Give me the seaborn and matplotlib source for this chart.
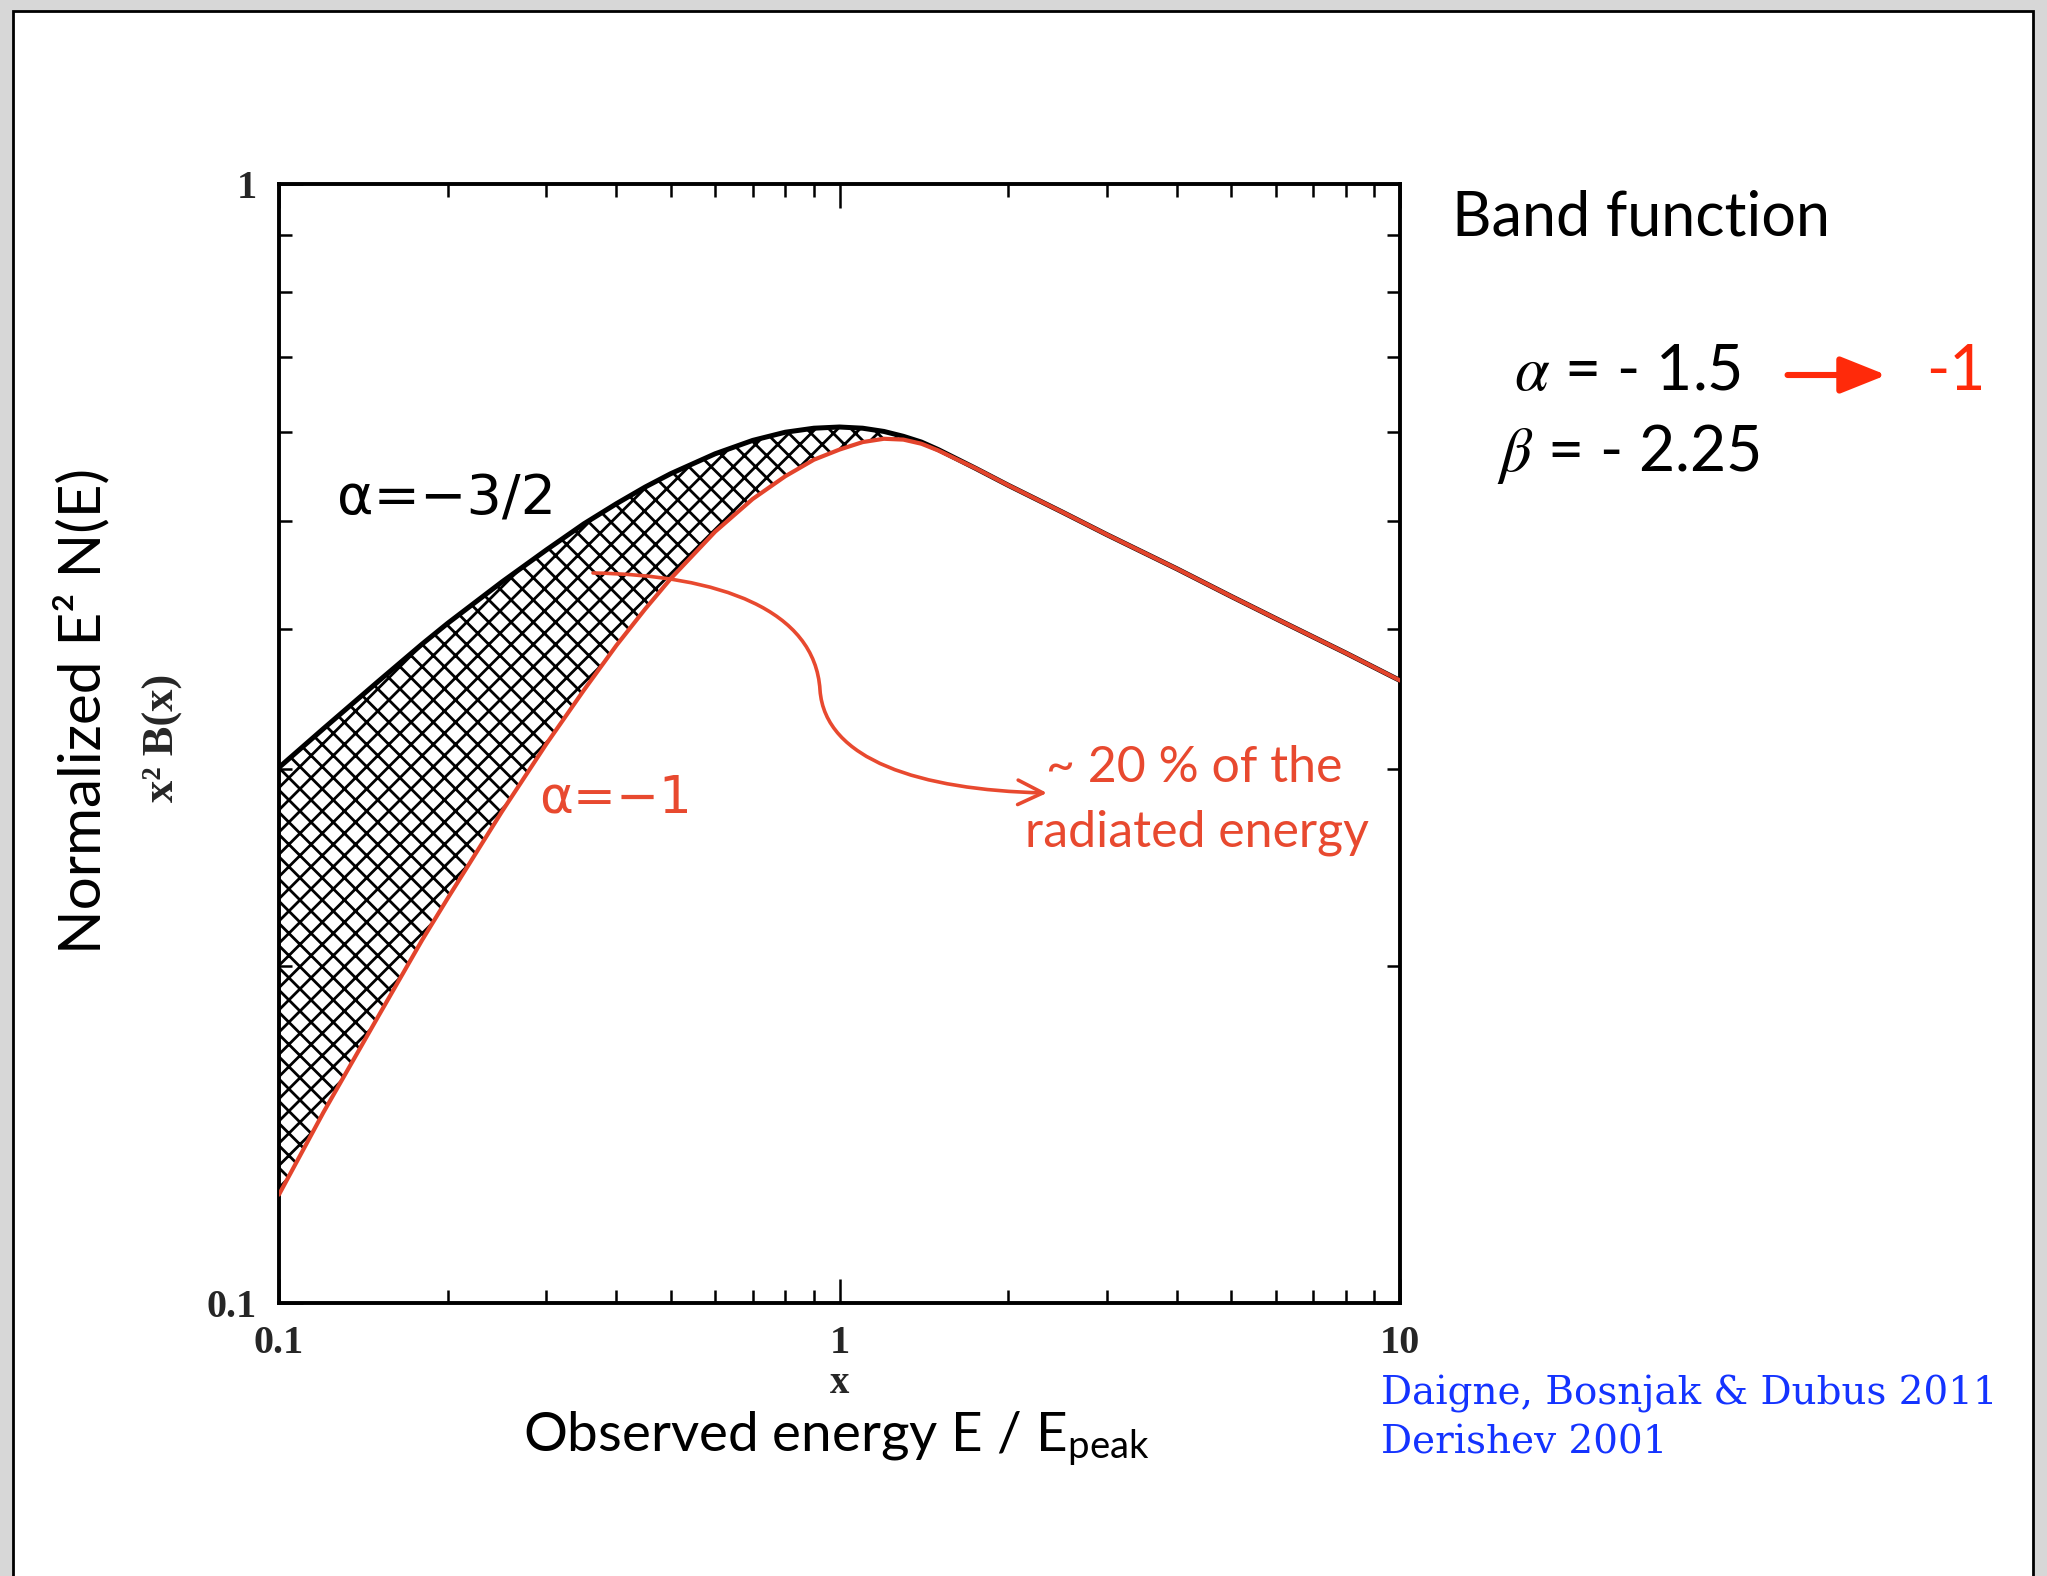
import numpy as np
import pandas as pd
import seaborn as sns
import matplotlib
matplotlib.use("Agg")
import matplotlib.pyplot as plt
from matplotlib.patches import Rectangle, FancyArrowPatch
from matplotlib.path import Path
from matplotlib.ticker import NullFormatter, FixedLocator, FixedFormatter, LogLocator

# ---- data (x = E / E_peak, y = x^2 B(x)) ----
x_ratio = [0.1, 0.12, 0.15, 0.18, 0.2, 0.25, 0.3, 0.35, 0.4, 0.45, 0.5, 0.6, 0.7,
           0.8, 0.9, 1.0, 1.1, 1.2, 1.3, 1.4, 1.5, 1.75, 2.0, 2.5, 3.0, 4.0, 5.0,
           6.0, 8.0, 10.0]
band_alpha_m15 = [0.301, 0.326, 0.359, 0.388, 0.405, 0.441, 0.471, 0.497, 0.518,
                  0.536, 0.551, 0.574, 0.590, 0.600, 0.605, 0.6065, 0.605, 0.601,
                  0.595, 0.588, 0.579, 0.557, 0.538, 0.509, 0.486, 0.453, 0.428,
                  0.409, 0.381, 0.360]
band_alpha_m1 = [0.125, 0.148, 0.180, 0.211, 0.230, 0.275, 0.316, 0.353, 0.387,
                 0.417, 0.444, 0.489, 0.523, 0.548, 0.567, 0.579, 0.588, 0.592,
                 0.591, 0.586, 0.578, 0.557, 0.538, 0.509, 0.486, 0.453, 0.428,
                 0.409, 0.381, 0.360]
x_tick_values = [0.1, 1, 10]
x_tick_labels = ["0.1", "1", "10"]
y_tick_values = [0.1, 1]
y_tick_labels = ["0.1", "1"]

W, H, DPI = 2047, 1576, 200
RED = "#e3442c"
RED_TXT = "#e8492f"

sns.set_theme(style="ticks")
plt.rcParams["font.family"] = ["Lato", "DejaVu Sans"]
plt.rcParams["mathtext.fontset"] = "stix"
plt.rcParams["hatch.linewidth"] = 1.0
plt.rcParams["hatch.color"] = "black"

fig = plt.figure(figsize=(W / DPI, H / DPI), dpi=DPI, facecolor="#d7d7d7")


def fx(px):
    return px / W


def fy(py):
    return 1 - py / H


# slide background (drawn beneath the axes)
fig.patches.append(Rectangle((fx(13), -0.05), fx(2033) - fx(13), fy(11) + 0.05,
                             transform=fig.transFigure, facecolor="white",
                             edgecolor="black", lw=1.0, zorder=-5))

ax = fig.add_axes([fx(279), fy(1303), fx(1400) - fx(279), fy(184) - fy(1303)])
ax.set_facecolor("white")
ax.set_zorder(1)

df = pd.DataFrame({"x": x_ratio, "a15": band_alpha_m15, "a1": band_alpha_m1})

ax.fill_between(df["x"], df["a1"], df["a15"], facecolor="none",
                edgecolor="black", hatch="xxx", lw=0, zorder=1)
sns.lineplot(data=df, x="x", y="a15", color="black", lw=1.8, ax=ax, zorder=3)
sns.lineplot(data=df, x="x", y="a1", color=RED, lw=1.5, ax=ax, zorder=4)

ax.set_xscale("log")
ax.set_yscale("log")
ax.set_xlim(0.1, 10)
ax.set_ylim(0.1, 1)

ax.xaxis.set_major_locator(FixedLocator(x_tick_values))
ax.xaxis.set_major_formatter(FixedFormatter(x_tick_labels))
ax.yaxis.set_major_locator(FixedLocator(y_tick_values))
ax.yaxis.set_major_formatter(FixedFormatter(y_tick_labels))
ax.xaxis.set_minor_locator(LogLocator(base=10, subs=np.arange(2, 10)))
ax.yaxis.set_minor_locator(LogLocator(base=10, subs=np.arange(2, 10)))
ax.xaxis.set_minor_formatter(NullFormatter())
ax.yaxis.set_minor_formatter(NullFormatter())
ax.tick_params(which="both", direction="in", top=True, right=True,
               color="black", width=0.9)
ax.tick_params(which="major", length=8.5)
ax.tick_params(which="minor", length=4.7)
ax.tick_params(axis="x", which="major", pad=8)
ax.tick_params(axis="y", which="major", pad=8)
for lab in ax.get_xticklabels() + ax.get_yticklabels():
    lab.set_fontfamily("Liberation Serif")
    lab.set_fontweight("bold")
    lab.set_fontsize(14.5)
for sp in ax.spines.values():
    sp.set_linewidth(1.4)
    sp.set_color("black")

ax.set_xlabel("x", fontfamily="Liberation Serif", fontweight="bold", fontsize=14)
ax.set_ylabel("x² B(x)", fontfamily="Liberation Serif", fontweight="bold", fontsize=16)
ax.xaxis.set_label_coords(0.5, -0.055)
ax.yaxis.set_label_coords(-0.086, 0.505)

# in-plot annotations
fig.text(fx(337), fy(500), "α=−3/2", fontfamily="DejaVu Sans", fontsize=20,
         color="black", ha="left", va="center", zorder=6)
fig.text(fx(539), fy(799), "α=−1", fontfamily="DejaVu Sans", fontsize=18.5,
         color=RED_TXT, ha="left", va="center", zorder=6)
fig.text(fx(1194), fy(768), "~ 20 % of the", fontsize=18, color=RED_TXT,
         ha="center", va="center", zorder=6)
fig.text(fx(1197), fy(833), "radiated energy", fontsize=18, color=RED_TXT,
         ha="center", va="center", zorder=6)

pts = [(593, 573), (720, 575), (815, 610), (820, 690),
       (825, 760), (920, 790), (1047, 793)]
codes = [Path.MOVETO, Path.CURVE4, Path.CURVE4, Path.CURVE4,
         Path.CURVE4, Path.CURVE4, Path.CURVE4]
arrow_path = Path([(fx(p[0]), fy(p[1])) for p in pts], codes)
fig.patches.append(FancyArrowPatch(path=arrow_path, transform=fig.transFigure,
                                   arrowstyle="->,head_length=0.45,head_width=0.22",
                                   mutation_scale=20, color=RED_TXT, lw=1.3,
                                   zorder=6))

# slide texts
fig.text(fx(1452), fy(218), "Band function", fontsize=22, color="black",
         ha="left", va="center")
fig.text(fx(1514), fy(372), r"$\alpha$ = - 1.5", fontsize=22.5, color="black",
         ha="left", va="center")
fig.text(fx(1497), fy(454), r"$\beta$ = - 2.25", fontsize=22.5, color="black",
         ha="left", va="center")
fig.patches.append(FancyArrowPatch((fx(1782), fy(375)), (fx(1892), fy(375)),
                                   transform=fig.transFigure,
                                   arrowstyle="-|>,head_length=0.7,head_width=0.28",
                                   mutation_scale=20, color="#ff2a0a", lw=2.2,
                                   zorder=6))
fig.text(fx(1926), fy(372), "-1", fontsize=22.5, color="#ff2a0a",
         ha="left", va="center")

fig.text(fx(82), fy(711), "Normalized E² N(E)", fontsize=21, color="black",
         rotation=90, ha="center", va="center")
fig.text(fx(836), fy(1452), r"Observed energy E / E$_{\mathregular{peak}}$",
         fontsize=19.7, color="black", ha="center", va="baseline")
fig.text(fx(1381), fy(1394), "Daigne, Bosnjak & Dubus 2011",
         fontfamily="DejaVu Serif", fontsize=14, color="#1433ff",
         ha="left", va="center")
fig.text(fx(1381), fy(1443), "Derishev 2001", fontfamily="DejaVu Serif",
         fontsize=14, color="#1433ff", ha="left", va="center")

fig.savefig("out.png", dpi=DPI, facecolor=fig.get_facecolor())
